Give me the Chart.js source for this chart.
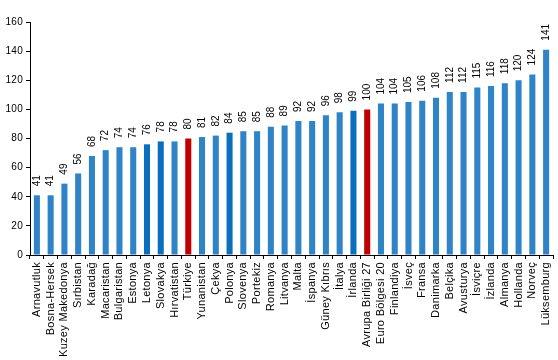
<!DOCTYPE html>
<html>
<head>
<meta charset="utf-8">
<script src="https://cdn.jsdelivr.net/npm/chart.js@4/dist/chart.umd.min.js"></script>
<style>
  html, body { margin: 0; padding: 0; background: #fff; }
  #wrap { width: 558px; height: 360px; }
</style>
</head>
<body>
<div id="wrap"><canvas id="c"></canvas></div>
<script>
const countries = ['Arnavutluk', 'Bosna-Hersek', 'Kuzey Makedonya', 'Sırbistan', 'Karadağ', 'Macaristan',
  'Bulgaristan', 'Estonya', 'Letonya', 'Slovakya', 'Hırvatistan', 'Türkiye', 'Yunanistan', 'Çekya',
  'Polonya', 'Slovenya', 'Portekiz', 'Romanya', 'Litvanya', 'Malta', 'İspanya', 'Güney Kıbrıs',
  'İtalya', 'İrlanda', 'Avrupa Birliği 27', 'Euro Bölgesi 20', 'Finlandiya', 'İsveç', 'Fransa',
  'Danimarka', 'Belçika', 'Avusturya', 'İsviçre', 'İzlanda', 'Almanya', 'Hollanda', 'Norveç', 'Lüksemburg'];
const values = [41, 41, 49, 56, 68, 72, 74, 74, 76, 78, 78, 80, 81, 82, 84, 85, 85, 88, 89, 92, 92, 96,
  98, 99, 100, 104, 104, 105, 106, 108, 112, 112, 115, 116, 118, 120, 124, 141];
const highlighted = ['Türkiye', 'Avrupa Birliği 27'];
const darker = ['Letonya', 'Slovakya', 'Polonya', 'İrlanda'];
const yTicks = [0, 20, 40, 60, 80, 100, 120, 140, 160];

const barColors = countries.map(c =>
  highlighted.includes(c) ? '#C00000' : (darker.includes(c) ? '#0A70BE' : '#2E84C6'));

// the category names in the original are set a bit loose
const looseText = {
  id: 'looseText',
  beforeLayout(chart) { chart.ctx.letterSpacing = '0.3px'; },
  beforeDraw(chart) { chart.ctx.letterSpacing = '0.3px'; }
};

// rotated value labels above the bars
const valueLabels = {
  id: 'valueLabels',
  afterDatasetsDraw(chart) {
    const ctx = chart.ctx;
    const meta = chart.getDatasetMeta(0);
    ctx.save();
    ctx.letterSpacing = '0px';
    ctx.font = '10px "Liberation Sans", Arial, sans-serif';
    ctx.fillStyle = '#000';
    ctx.textAlign = 'left';
    ctx.textBaseline = 'middle';
    meta.data.forEach((bar, i) => {
      ctx.save();
      ctx.translate(bar.x, bar.y - 9);
      ctx.rotate(-Math.PI / 2);
      ctx.fillText(String(values[i]), 0, 0);
      ctx.restore();
    });
    ctx.restore();
  }
};

new Chart(document.getElementById('c'), {
  type: 'bar',
  data: {
    labels: countries,
    datasets: [{
      data: values,
      backgroundColor: barColors,
      borderWidth: 0,
      barPercentage: 0.44,
      categoryPercentage: 1
    }]
  },
  options: {
    responsive: true,
    maintainAspectRatio: false,
    animation: false,
    layout: { padding: { left: 0, right: 5, top: 22, bottom: 0 } },
    plugins: {
      legend: { display: false },
      tooltip: { enabled: false }
    },
    scales: {
      x: {
        type: 'category',
        offset: true,
        afterFit: axis => {
          axis.height = 105;
          axis.paddingLeft = 0;
          axis.paddingRight = 0;
        },
        grid: { display: true, drawOnChartArea: false, drawTicks: true, tickLength: 4, color: '#000', offset: true },
        border: { display: true, color: '#000', width: 1 },
        ticks: {
          color: '#000',
          autoSkip: false,
          minRotation: 90,
          maxRotation: 90,
          padding: 3,
          font: { family: '"Liberation Sans", Arial, sans-serif', size: 11 }
        }
      },
      y: {
        min: 0,
        max: 160,
        afterFit: axis => { axis.width = 30; },
        afterBuildTicks: axis => { axis.ticks = yTicks.map(v => ({ value: v })); },
        grid: { display: true, drawOnChartArea: false, drawTicks: true, tickLength: 4, color: '#000' },
        border: { display: true, color: '#000', width: 1 },
        ticks: {
          color: '#000',
          padding: 3,
          font: { family: '"Liberation Sans", Arial, sans-serif', size: 10 }
        }
      }
    }
  },
  plugins: [looseText, valueLabels]
});
</script>
</body>
</html>
